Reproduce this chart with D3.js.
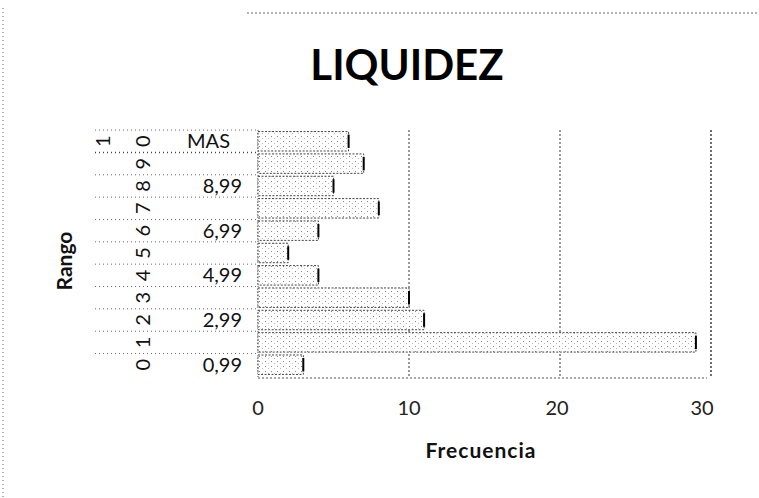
<!DOCTYPE html>
<html>
<head>
<meta charset="utf-8">
<script src="https://cdn.jsdelivr.net/npm/d3@7"></script>
<style>
  body { margin: 0; background: #fff; }
  svg { display: block; font-family: Lato, "Open Sans", sans-serif; }
</style>
</head>
<body>
<div id="chart"></div>
<script>
// histogram of the liquidity ratio, bottom to top
var rangos = ["0,99", "1,99", "2,99", "3,99", "4,99", "5,99", "6,99", "7,99", "8,99", "9,99", "MAS"];
var grupos = ["0", "1", "2", "3", "4", "5", "6", "7", "8", "9", "10"];
var frecuencias = [3, 29, 11, 10, 4, 2, 4, 8, 5, 7, 6];
var xTicks = [0, 10, 20, 30];

var width = 759, height = 498;

var svg = d3.select("#chart").append("svg")
    .attr("width", width)
    .attr("height", height);

// speckled fill, like the scanned bars
var defs = svg.append("defs");
var pat = defs.append("pattern")
    .attr("id", "speck")
    .attr("width", 6)
    .attr("height", 5)
    .attr("patternUnits", "userSpaceOnUse");
pat.append("rect").attr("width", 6).attr("height", 5).attr("fill", "#fff");
pat.append("rect").attr("x", 1).attr("y", 1).attr("width", 1).attr("height", 1).attr("fill", "#888");
pat.append("rect").attr("x", 4).attr("y", 3).attr("width", 1).attr("height", 1).attr("fill", "#bbb");

var x = d3.scaleLinear()
    .domain([0, 30])
    .range([258, 711]);

var y = d3.scaleBand()
    .domain(rangos.slice().reverse())
    .range([130, 376])
    .paddingInner(0.13)
    .paddingOuter(0.07);

// frame bits of the scan
svg.append("line")
    .attr("x1", 3).attr("x2", 3).attr("y1", 8).attr("y2", height)
    .attr("stroke", "#666").attr("stroke-dasharray", "1,3");
svg.append("line")
    .attr("x1", 247).attr("x2", width).attr("y1", 13).attr("y2", 13)
    .attr("stroke", "#666").attr("stroke-dasharray", "2,2");

// gridlines
svg.append("g")
    .selectAll("line")
    .data(xTicks.slice(1))
    .enter().append("line")
    .attr("x1", function (d) { return x(d); })
    .attr("x2", function (d) { return x(d); })
    .attr("y1", 130)
    .attr("y2", 376)
    .attr("stroke", "#333")
    .attr("stroke-width", function (d) { return d == 30 ? 1.4 : 1; })
    .attr("stroke-dasharray", "2,2");

// bottom edge of the plot area
svg.append("line")
    .attr("x1", x(0)).attr("x2", x(30) - 4)
    .attr("y1", 378).attr("y2", 378)
    .attr("stroke", "#555").attr("stroke-dasharray", "2,2");

// value axis (left)
svg.append("line")
    .attr("x1", x(0)).attr("x2", x(0))
    .attr("y1", 130).attr("y2", 378)
    .attr("stroke", "#555").attr("stroke-dasharray", "1,2");

// category separators
var step = y.step();
svg.append("g")
    .selectAll("line")
    .data(rangos)
    .enter().append("line")
    .attr("x1", 95)
    .attr("x2", x(0))
    .attr("y1", function (d) { return y(d) - step * 0.065; })
    .attr("y2", function (d) { return y(d) - step * 0.065; })
    .attr("stroke", "#444")
    .attr("stroke-width", function (d) { return d == "9,99" ? 1.5 : 0.8; })
    .attr("stroke-dasharray", "1,3");

// bars
var bars = svg.append("g")
    .selectAll("g")
    .data(frecuencias)
    .enter().append("g");

bars.append("rect")
    .attr("x", x(0))
    .attr("y", function (d, i) { return y(rangos[i]); })
    .attr("width", function (d) { return x(d) - x(0); })
    .attr("height", y.bandwidth())
    .attr("fill", "url(#speck)")
    .attr("stroke", "#444")
    .attr("stroke-width", 1)
    .attr("stroke-dasharray", "2,1.5");

bars.append("line")
    .attr("x1", function (d) { return x(d); })
    .attr("x2", function (d) { return x(d); })
    .attr("y1", function (d, i) { return y(rangos[i]) + 3; })
    .attr("y2", function (d, i) { return y(rangos[i]) + y.bandwidth() - 3; })
    .attr("stroke", "#000")
    .attr("stroke-width", 2);

// inner category labels (every other one, like Excel)
svg.append("g")
    .selectAll("text")
    .data(rangos.filter(function (d, i) { return i % 2 == 0; }))
    .enter().append("text")
    .attr("x", function (d) { return d == "MAS" ? 230 : 242; })
    .attr("y", function (d) { return y(d) + y.bandwidth() / 2 + 7; })
    .attr("text-anchor", "end")
    .attr("font-size", 20)
    .attr("fill", "#111")
    .text(function (d) { return d; });

// outer group labels, rotated
svg.append("g")
    .selectAll("text")
    .data(grupos.slice(0, 10))
    .enter().append("text")
    .attr("transform", function (d, i) {
        return "translate(150," + (y(rangos[i]) + y.bandwidth() / 2) + ") rotate(-90)";
    })
    .attr("text-anchor", "middle")
    .attr("font-size", 20)
    .attr("fill", "#111")
    .text(function (d) { return d; });

var last = grupos[10].split("");
svg.append("g")
    .selectAll("text")
    .data(last)
    .enter().append("text")
    .attr("transform", function (d, i) {
        return "translate(" + (i == 0 ? 110 : 150) + "," + (y("MAS") + y.bandwidth() / 2) + ") rotate(-90)";
    })
    .attr("text-anchor", "middle")
    .attr("font-size", 20)
    .attr("fill", "#111")
    .text(function (d) { return d; });

// x tick labels
svg.append("g")
    .selectAll("text")
    .data(xTicks)
    .enter().append("text")
    .attr("x", function (d) { return x(d) - (d == 30 ? 9 : d == 20 ? 3 : 0); })
    .attr("y", 415)
    .attr("text-anchor", "middle")
    .attr("font-size", 20)
    .attr("fill", "#222")
    .text(function (d) { return d; });

// titles
svg.append("text")
    .attr("x", 407)
    .attr("y", 80)
    .attr("text-anchor", "middle")
    .attr("font-size", 42)
    .attr("font-weight", "bold")
    .attr("fill", "#000")
    .text("LIQUIDEZ");

svg.append("text")
    .attr("x", 481)
    .attr("y", 458)
    .attr("text-anchor", "middle")
    .attr("font-size", 21)
    .attr("font-weight", "bold")
    .attr("letter-spacing", 1)
    .attr("fill", "#111")
    .text("Frecuencia");

svg.append("text")
    .attr("transform", "translate(72,261) rotate(-90)")
    .attr("text-anchor", "middle")
    .attr("font-size", 21)
    .attr("font-weight", "bold")
    .attr("fill", "#111")
    .text("Rango");
</script>
</body>
</html>
